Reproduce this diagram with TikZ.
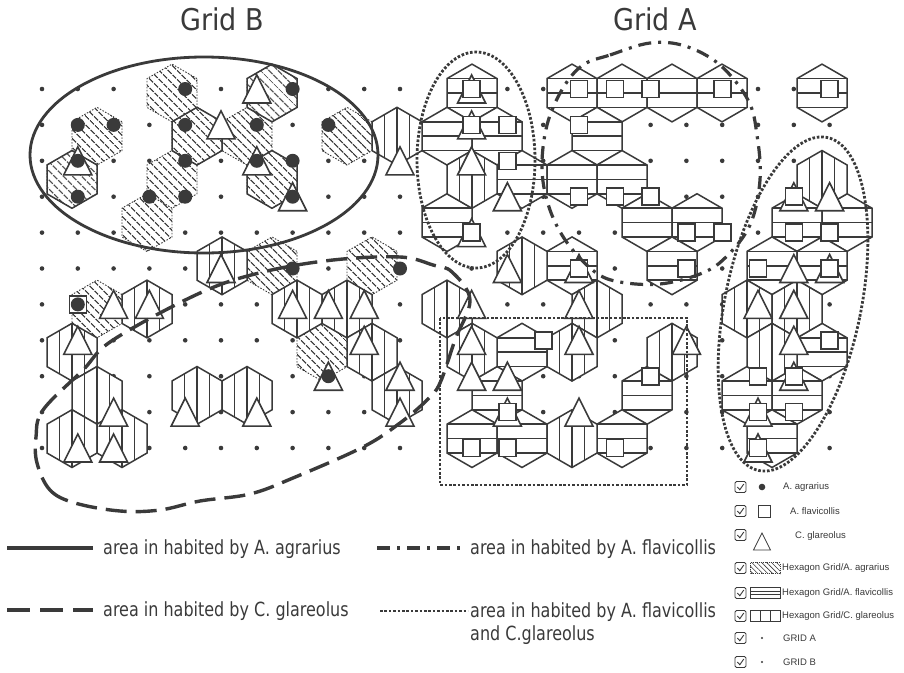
\documentclass[tikz,border=0pt]{standalone}
\usepackage{fontspec}
\newfontfamily\labfont{DejaVu Sans}[FakeStretch=0.82]
\newfontfamily\titfont{DejaVu Sans}[FakeStretch=0.9]
\newfontfamily\legfont{Liberation Sans}
\usetikzlibrary{patterns.meta}
\definecolor{ink}{RGB}{58,58,58}
\newcommand\hexshape[2]{({#1+25},{#2-14.43}) -- ({#1},{#2-28.87}) -- ({#1-25},{#2-14.43}) -- ({#1-25},{#2+14.43}) -- ({#1},{#2+28.87}) -- ({#1+25},{#2+14.43}) -- cycle}
\tikzset{
  hexline/.style={draw=ink, line width=1.5pt, line join=miter},
  symline/.style={draw=ink, line width=1.6pt, fill=white, line join=miter},
  hatch/.style={pattern={Lines[angle=-45,distance=6.5pt,line width=1.35pt]}, pattern color=ink},
  solidarea/.style={draw=ink, line width=2.8pt},
  dasharea/.style={draw=ink, line width=3.4pt, dash pattern=on 21pt off 9pt},
  dotdasharea/.style={draw=ink, line width=3.2pt, dash pattern=on 13pt off 7pt on 3pt off 7pt},
  dotarea/.style={draw=ink, line width=2.8pt, dash pattern=on 2.6pt off 1.8pt},
  titletext/.style={text=ink, font=\titfont\fontsize{30}{33}\selectfont, inner sep=0pt},
  legtext/.style={text=ink, font=\labfont\fontsize{19.5}{22}\selectfont, inner sep=0pt, anchor=west},
  smalltext/.style={text=ink, font=\legfont\fontsize{9.5}{11}\selectfont, inner sep=0pt, anchor=west},
}
\begin{document}
\begin{tikzpicture}[x=1pt,y=-1pt]
\useasboundingbox (0,0) rectangle (904,672);
\fill[white] (0,0) rectangle (904,672);
% grid points
\foreach \k in {0,...,10,12,13,...,22}{
  \foreach \j in {0,...,10}{
    \fill[ink] ({42+35.8*\k},{89+35.9*\j}) circle (2.3);
  }
}
% hexagons A. agrarius (hatched)
\foreach \r/\x in {0/172,0/272,1/97,1/197,1/247,1/347,2/72,2/172,2/272,3/147,4/272,4/372,5/97,6/322}{
  \pgfmathsetmacro\cy{93+43.2*\r}
  \fill[white] \hexshape{\x}{\cy};
  \fill[hatch] \hexshape{\x}{\cy};
  \draw[ink, line width=0.9pt, dash pattern=on 1.5pt off 1.5pt] \hexshape{\x}{\cy};
}
\foreach \r/\x in {0/272,1/197,2/72,2/272}{
  \pgfmathsetmacro\cy{93+43.2*\r}
  \draw[hexline] \hexshape{\x}{\cy};
}
% hexagons A. flavicollis (horizontal)
\foreach \r/\x in {0/472,0/572,0/622,0/672,0/722,0/822,1/447,1/497,1/597,2/522,2/572,2/622,3/447,3/647,3/697,3/797,3/847,4/572,4/672,4/772,4/822,6/522,6/822,7/497,7/647,7/747,7/797,8/472,8/522,8/622,8/772}{
  \pgfmathsetmacro\cy{93+43.2*\r}
  \draw[hexline, fill=white] \hexshape{\x}{\cy};
  \draw[hexline] ({\x-25},{\cy-14.43}) -- ({\x+25},{\cy-14.43})
                 ({\x-25},\cy) -- ({\x+25},\cy)
                 ({\x-25},{\cy+14.43}) -- ({\x+25},{\cy+14.43});
}
% hexagons C. glareolus (vertical)
\foreach \r/\x in {1/397,2/472,2/822,4/522,5/447,5/597,5/747,5/797,6/472,6/572,6/672,6/772,8/572,4/222,5/147,6/72,7/97,8/72,8/122,7/197,7/247,5/297,5/347,6/372,7/397}{
  \pgfmathsetmacro\cy{93+43.2*\r}
  \draw[hexline, fill=white] \hexshape{\x}{\cy};
  \draw[hexline] ({\x-12.5},{\cy-21.65}) -- ({\x-12.5},{\cy+21.65})
                 (\x,{\cy-28.87}) -- (\x,{\cy+28.87})
                 ({\x+12.5},{\cy-21.65}) -- ({\x+12.5},{\cy+21.65});
}
% triangles
\foreach \k/\j in {6/0,5/1,1/2,6/2,7/3,5/5,2/6,3/6,1/7,2/9,2/10,1/10,4/9,6/9,7/6,8/6,9/6,9/7,10/8,10/9,8/8,10/2,12/2,13/3,22/3,13/5,12/6,15/6,20/6,21/6,12/7,15/7,18/7,21/7,12/8,13/8,15/9,21/5,12/0,12/1,12/4,15/5,21/3,22/5,21/8,13/9,20/9,20/10}{
  \pgfmathsetmacro\px{42+35.8*\k}
  \pgfmathsetmacro\py{89+35.9*\j}
  \draw[symline] (\px,{\py-14}) -- ({\px+14},{\py+14}) -- ({\px-14},{\py+14}) -- cycle;
}
% squares
\foreach \k/\j in {12/0,12/1,12/4,15/5,21/3,22/5,21/8,13/9,20/9,20/10,15/0,16/0,17/0,19/0,22/0,13/1,15/1,13/2,15/3,16/3,17/3,18/4,19/4,21/4,22/4,18/5,20/5,14/7,22/7,17/8,20/8,21/9,12/10,13/10,16/10,1/6}{
  \pgfmathsetmacro\px{42+35.8*\k}
  \pgfmathsetmacro\py{89+35.9*\j}
  \draw[symline] ({\px-8.5},{\py-8.5}) rectangle ({\px+8.5},{\py+8.5});
}
% big dots
\foreach \k/\j in {4/0,7/0,1/1,2/1,4/1,6/1,8/1,1/2,4/2,6/2,7/2,1/3,3/3,4/3,7/3,7/5,10/5,8/8,1/6}{
  \fill[ink] ({42+35.8*\k},{89+35.9*\j}) circle (7);
}
% areas
\draw[solidarea] (204,155) ellipse [x radius=174, y radius=98];
\draw[dasharea] plot[smooth cycle, tension=0.6] coordinates {(37,463) (50,490) (75,503) (120,511) (160,510) (200,501) (250,494) (293,478) (363,447) (400,423) (427,400) (440,383) (455,340) (470,300) (452,272) (433,265) (400,257) (333,260) (263,272) (200,293) (113,340) (83,370) (43,410) (36,437)};
\draw[dotdasharea] plot[smooth cycle, tension=0.6] coordinates {(583,65) (610,55) (650,43) (685,46) (720,65) (748,100) (757,135) (760,180) (750,225) (725,258) (700,274) (660,284) (620,282) (595,272) (568,244) (550,210) (542,170) (547,125) (563,88)};
\draw[dotarea] (476,160) ellipse [x radius=59, y radius=108];
\draw[dotarea, rotate around={-11.6:(793,304)}] (793,304) ellipse [x radius=68, y radius=170];
\draw[dotarea] (440,318) rectangle (687,485);
% titles
\node[titletext] (gridB) at (222,19) {Grid B};
\node[titletext] (gridA) at (655,19) {Grid A};
% bottom legend
\coordinate (l1a) at (7,548); \coordinate (l1b) at (93,548);
\draw[solidarea, line width=3.6pt] (l1a) -- (l1b);
\node[legtext] (t1) at (103,549) {area in habited by A. agrarius};
\coordinate (l2a) at (377,548); \coordinate (l2b) at (462,548);
\draw[dotdasharea] (l2a) -- (l2b);
\node[legtext] (t2) at (470,549) {area in habited by A. flavicollis};
\coordinate (l3a) at (7,610); \coordinate (l3b) at (93,610);
\draw[dasharea, line width=4pt, dash pattern=on 23pt off 10pt] (l3a) -- (l3b);
\node[legtext] (t3) at (103,611) {area in habited by C. glareolus};
\coordinate (l4a) at (380,611); \coordinate (l4b) at (468,611);
\draw[dotarea, line width=2.2pt] (l4a) -- (l4b);
\node[legtext] (t4) at (470,612) {area in habited by A. flavicollis};
\node[legtext] (t5) at (470,635) {and C.glareolus};
% right legend
\foreach \y in {487,511,535,568,593,616,638,662}{
  \draw[ink, line width=0.8pt, rounded corners=1.5pt] (735,{\y-5.5}) rectangle (746,{\y+5.5});
  \draw[ink, line width=0.9pt] (737.3,\y) -- (739.8,{\y+2.7}) -- (743.8,{\y-3});
}
\fill[ink] (762,487) circle (3.3);
\draw[ink, line width=0.8pt] (758,505) rectangle (770,517);
\draw[ink, line width=0.8pt] (762,533) -- (770.5,550) -- (753.5,550) -- cycle;
\begin{scope}
  \clip (750,562.5) rectangle (780,573.5);
  \fill[pattern={Lines[angle=-45,distance=3.5pt,line width=0.6pt]}, pattern color=ink] (750,562.5) rectangle (780,573.5);
\end{scope}
\draw[ink, line width=0.5pt, dash pattern=on 1pt off 1pt] (750,562.5) rectangle (780,573.5);
\draw[ink, line width=0.8pt] (750,587.5) rectangle (780,598.5) (750,591.2) -- (780,591.2) (750,594.8) -- (780,594.8);
\draw[ink, line width=0.8pt] (750,610.5) rectangle (780,621.5) (760,610.5) -- (760,621.5) (770,610.5) -- (770,621.5);
\fill[ink] (762,638) circle (1.2);
\fill[ink] (762,662) circle (1.2);
\node[smalltext] (s1) at (783,487) {A. agrarius};
\node[smalltext] (s2) at (790,511) {A. flavicollis};
\node[smalltext] (s3) at (795,536) {C. glareolus};
\node[smalltext] (s4) at (782,568) {Hexagon Grid/A. agrarius};
\node[smalltext] (s5) at (782,593) {Hexagon Grid/A. flavicollis};
\node[smalltext] (s6) at (782,616) {Hexagon Grid/C. glareolus};
\node[smalltext] (s7) at (783,638) {GRID A};
\node[smalltext] (s8) at (783,662) {GRID B};
\end{tikzpicture}
\end{document}
